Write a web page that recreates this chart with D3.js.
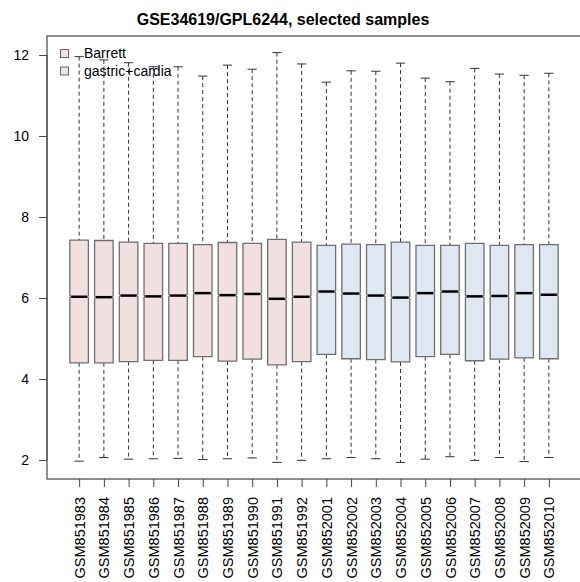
<!DOCTYPE html>
<html><head><meta charset="utf-8">
<script src="https://cdn.jsdelivr.net/npm/d3@7"></script>
<style>body{margin:0;background:#fff}svg{display:block}text{font-family:"Liberation Sans",Arial,sans-serif}</style>
</head><body>
<svg id="c" width="580" height="582"></svg>
<script>
const samples = ["GSM851983","GSM851984","GSM851985","GSM851986","GSM851987","GSM851988","GSM851989","GSM851990","GSM851991","GSM851992",
  "GSM852001","GSM852002","GSM852003","GSM852004","GSM852005","GSM852006","GSM852007","GSM852008","GSM852009","GSM852010"];
const groups = ["Barrett","Barrett","Barrett","Barrett","Barrett","Barrett","Barrett","Barrett","Barrett","Barrett",
  "gastric+cardia","gastric+cardia","gastric+cardia","gastric+cardia","gastric+cardia","gastric+cardia","gastric+cardia","gastric+cardia","gastric+cardia","gastric+cardia"];
const whiskerLow  = [1.97,2.06,2.02,2.03,2.04,2.01,2.03,2.05,1.94,1.99, 2.03,2.06,2.03,1.94,2.02,2.08,1.99,2.06,1.96,2.06];
const q1          = [4.40,4.40,4.43,4.46,4.46,4.55,4.44,4.49,4.35,4.43, 4.61,4.50,4.48,4.42,4.55,4.61,4.45,4.49,4.52,4.50];
const medians     = [6.03,6.02,6.06,6.04,6.06,6.12,6.07,6.10,5.98,6.03, 6.16,6.11,6.06,6.01,6.12,6.16,6.04,6.05,6.12,6.08];
const q3          = [7.43,7.42,7.38,7.35,7.35,7.32,7.37,7.35,7.45,7.38, 7.30,7.33,7.32,7.38,7.30,7.30,7.35,7.30,7.32,7.32];
const whiskerHigh = [11.96,11.88,11.81,11.71,11.71,11.48,11.75,11.65,12.06,11.78, 11.33,11.61,11.60,11.80,11.43,11.34,11.67,11.53,11.50,11.55];
const yTicks = [2,4,6,8,10,12];
const legendLabels = ["Barrett","gastric+cardia"];
const title = "GSE34619/GPL6244, selected samples";

const colors = {"Barrett":"#f2dfdf","gastric+cardia":"#dfe8f2"};
const svg = d3.select("#c");
const L = 47, T = 36, R = 581, B = 479;
const xl = d3.scaleLinear().domain([-0.3, samples.length + 1.3]).range([L, R]);
const x = d3.scalePoint().domain(samples).range([xl(1), xl(samples.length)]);
const y = d3.scaleLinear().domain([1.53, 12.47]).range([B, T]);
const step = x.step();
const hw = step * 0.375;  // box half width
const sw = hw * 0.5;      // staple half width
const notch = 0.028;

// title
svg.append("text").attr("x", 283).attr("y", 25).attr("text-anchor","middle")
  .attr("font-size", 16).attr("font-weight","bold").attr("fill","#000").text(title);

const data = samples.map((s,i)=>({s, g:groups[i], lo:whiskerLow[i], q1:q1[i], med:medians[i], q3:q3[i], hi:whiskerHigh[i]}));

const g = svg.append("g");
data.forEach(d=>{
  const cx = x(d.s);
  g.append("line").attr("x1",cx).attr("x2",cx).attr("y1",y(d.hi)).attr("y2",y(d.q3))
    .attr("stroke","#333").attr("stroke-dasharray","4,3").attr("stroke-width",1);
  g.append("line").attr("x1",cx).attr("x2",cx).attr("y1",y(d.q1)).attr("y2",y(d.lo))
    .attr("stroke","#333").attr("stroke-dasharray","4,3").attr("stroke-width",1);
  [d.hi,d.lo].forEach(v=>g.append("line").attr("x1",cx-sw).attr("x2",cx+sw).attr("y1",y(v)).attr("y2",y(v))
    .attr("stroke","#333").attr("stroke-width",1));
  const pts = [[cx-hw,y(d.q1)],[cx+hw,y(d.q1)],[cx+hw,y(d.med-notch)],[cx+hw*0.85,y(d.med)],[cx+hw,y(d.med+notch)],
    [cx+hw,y(d.q3)],[cx-hw,y(d.q3)],[cx-hw,y(d.med+notch)],[cx-hw*0.85,y(d.med)],[cx-hw,y(d.med-notch)]];
  g.append("path").attr("d", d3.line()(pts)+"Z").attr("fill",colors[d.g]).attr("stroke","#6f6f6f").attr("stroke-width",1.3);
  g.append("line").attr("x1",cx-hw*0.85).attr("x2",cx+hw*0.85).attr("y1",y(d.med)).attr("y2",y(d.med))
    .attr("stroke","#000").attr("stroke-width",2.5);
});

svg.append("rect").attr("x",L).attr("y",T).attr("width",R-L).attr("height",B-T)
  .attr("fill","none").attr("stroke","#444").attr("stroke-width",1.2);

const ya = svg.append("g").attr("transform",`translate(${L},0)`)
  .call(d3.axisLeft(y).tickValues(yTicks).tickSize(8).tickPadding(10).tickFormat(d3.format("d")));
ya.select(".domain").remove();
ya.selectAll(".tick line").attr("stroke","#444");
ya.selectAll("text").attr("font-size",14).attr("fill","#000").attr("font-family","Liberation Sans, Arial, sans-serif");
svg.append("line").attr("x1",L).attr("x2",L).attr("y1",y(yTicks[0])).attr("y2",y(yTicks[yTicks.length-1])).attr("stroke","#444");

const xa = svg.append("g").attr("transform",`translate(0,${B})`)
  .call(d3.axisBottom(x).tickSize(8).tickPadding(0));
xa.select(".domain").remove();
xa.selectAll(".tick line").attr("stroke","#444");
xa.selectAll("text").attr("font-size",14.5).attr("fill","#000").attr("font-family","Liberation Sans, Arial, sans-serif")
  .attr("transform","rotate(-90)").attr("text-anchor","end").attr("dy","0.35em").attr("x",-18).attr("y",0);

const lg = svg.append("g");
legendLabels.forEach((lab,i)=>{
  const yy = 53.5 + i*17.5;
  lg.append("rect").attr("x",60.5).attr("y",yy-4).attr("width",8).attr("height",8)
    .attr("fill",colors[lab]).attr("stroke","#666").attr("stroke-width",1);
  lg.append("text").attr("x",84).attr("y",yy).attr("dy","0.35em").attr("font-size",14).attr("fill","#000").text(lab);
});
</script>
</body></html>
